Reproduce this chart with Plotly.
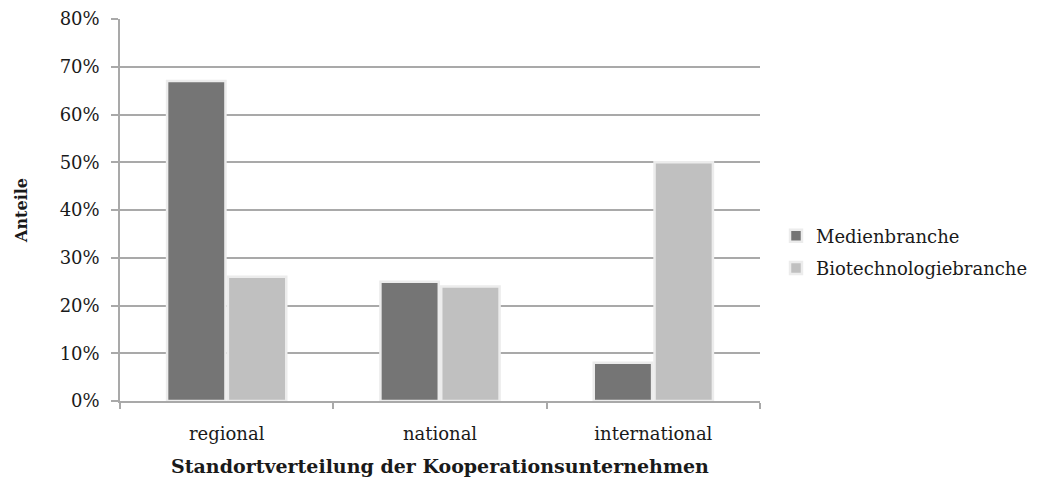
import plotly.graph_objects as go

categories = ["regional", "national", "international"]
medien = [67, 25, 8]
biotech = [26, 24, 50]
y_ticks = [0, 10, 20, 30, 40, 50, 60, 70, 80]
y_tick_labels = [f"{v}%" for v in y_ticks]

FONT = "DejaVu Serif"
GRID = "#a9a9a9"

fig = go.Figure()
fig.add_trace(go.Bar(
    name="Medienbranche", x=categories, y=medien, legendgroup="m",
    marker=dict(color="#757575", line=dict(color="#ececec", width=2.5)),
))
fig.add_trace(go.Bar(
    name="Biotechnologiebranche", x=categories, y=biotech, legendgroup="b",
    marker=dict(color="#c0c0c0", line=dict(color="#ececec", width=2.5)),
))

fig.update_layout(
    width=1050, height=477,
    margin=dict(l=120, r=290, t=19, b=76),
    paper_bgcolor="white", plot_bgcolor="white",
    barmode="group", bargap=0.43, bargroupgap=0.04,
    font=dict(family=FONT, size=18, color="#1a1a1a"),
    legend=dict(x=1.025, y=0.39, xanchor="left", yanchor="middle",
                font=dict(family=FONT, size=18), itemwidth=30,
                tracegroupgap=6),
    showlegend=True,
)
fig.update_xaxes(
    automargin=False,
    showline=True, linecolor=GRID, linewidth=1.5,
    ticks="outside", tickson="boundaries", ticklen=6, tickcolor=GRID, tickwidth=1.5,
    tickfont=dict(family=FONT, size=18), ticklabelstandoff=16,
    title=dict(text="<b>Standortverteilung der Kooperationsunternehmen</b>",
               font=dict(family=FONT, size=19), standoff=16),
)
fig.update_yaxes(
    automargin=False,
    range=[0, 80], tickmode="array", tickvals=y_ticks, ticktext=y_tick_labels,
    showgrid=True, gridcolor=GRID, gridwidth=1.5,
    showline=True, linecolor=GRID, linewidth=1.5,
    ticks="outside", ticklen=7, tickcolor=GRID, tickwidth=1.5,
    tickfont=dict(family=FONT, size=18), ticklabelstandoff=8,
    title=dict(text="<b>Anteile</b>", font=dict(family=FONT, size=16), standoff=28),
    zeroline=False,
)

fig.write_html("out.html")
